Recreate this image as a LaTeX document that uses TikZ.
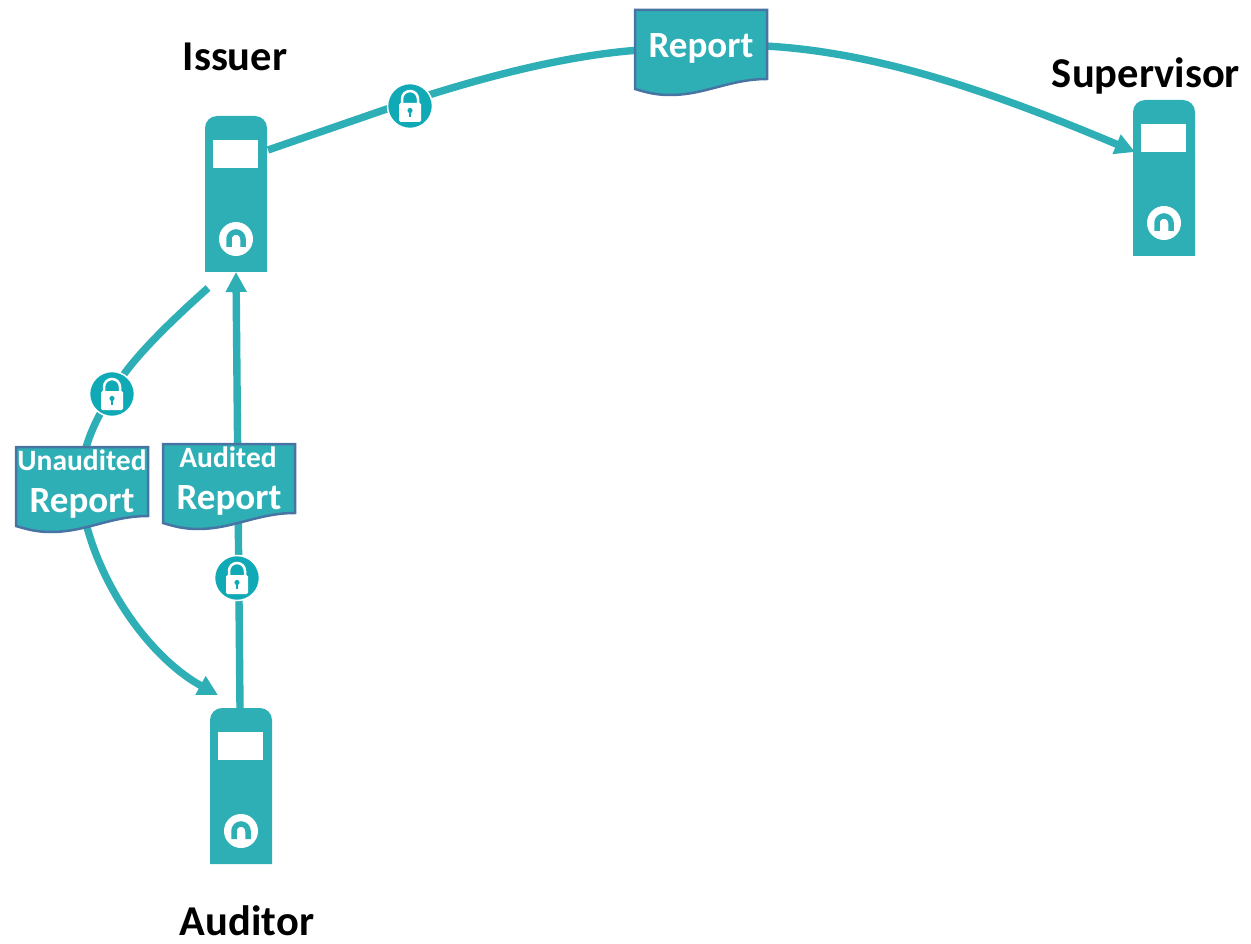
\documentclass[tikz,border=0pt]{standalone}
\usepackage{fontspec}
\setmainfont{Carlito}
\usetikzlibrary{arrows.meta,calc}
\definecolor{teal1}{RGB}{46,175,182}
\definecolor{teal2}{RGB}{16,170,182}
\definecolor{docedge}{RGB}{72,116,164}
\tikzset{
  x=1pt,y=-1pt,
  flow/.style={draw=teal1,line width=7.4pt},
  flowarrow/.style={flow,-{Triangle[length=20pt,width=20pt]}},
  actor/.style={font=\bfseries\fontsize{42.5}{46}\selectfont,text=black,inner sep=0pt},
  doctext/.style={font=\bfseries\fontsize{37}{40}\selectfont,text=white,inner sep=0pt},
  docsmall/.style={font=\bfseries\fontsize{29.5}{32}\selectfont,text=white,inner sep=0pt},
}
% server: name, left x, top y
\newcommand{\serverbox}[3]{%
  \begin{scope}[shift={(#2,#3)}]
    \fill[teal1] (0,156) -- (0,12) arc[start angle=180,end angle=270,radius=12] -- (50,0) arc[start angle=270,end angle=360,radius=12] -- (62,156) -- cycle;
    \fill[white] (8,24) rectangle (53,52);
    \fill[white] (31,123) circle[radius=17];
    \draw[teal1,line width=5.5pt] (24,131) -- (24,123) arc[start angle=180,end angle=360,radius=7] -- (38,131);
    \node[inner sep=0pt,minimum width=62pt,minimum height=156pt] (#1) at (31,78) {};
  \end{scope}}
% lock: name, cx, cy
\newcommand{\lockbadge}[3]{%
  \begin{scope}[shift={(#2,#3)}]
    \node[circle,fill=teal2,draw=white,line width=1.5pt,minimum size=45pt,inner sep=0pt] (#1) at (0,0) {};
    \draw[white,line width=2.5pt] (-8,-1) -- (-8,-7) arc[start angle=180,end angle=360,radius=8] -- (8,-1);
    \fill[white,rounded corners=1.5pt] (-11,-3) rectangle (11,16);
    \fill[teal2] (0,4.5) circle[radius=2.6];
    \fill[teal2] (-1.1,4.5) rectangle (1.1,11);
  \end{scope}}
% document: name, left x, top y
\newcommand{\docshape}[3]{%
  \begin{scope}[shift={(#2,#3)}]
    \fill[teal1,draw=docedge,line width=2.5pt] (0,0) -- (132,0) -- (132,69)
      .. controls (95,69) and (70,85) .. (35,85)
      .. controls (20,85) and (10,82) .. (0,79) -- cycle;
    \node[inner sep=0pt,minimum width=132pt,minimum height=85pt] (#1) at (66,42) {};
  \end{scope}}
\begin{document}
\begin{tikzpicture}
\useasboundingbox (0,0) rectangle (1251,944);
% anchors for free ends
\coordinate (c1) at (268,150);
\coordinate (c2) at (208,288);
\coordinate (c3) at (218,695);
\coordinate (c4) at (240,708);
\coordinate (c5) at (236,272);
\coordinate (c6) at (1135,152);
% servers
\serverbox{issuer}{205}{116}
\serverbox{supervisor}{1133}{100}
\serverbox{auditor}{210}{708}
% connectors
\draw[flow] (c1) -- (410,101);
\draw[flow] (410,101) .. controls (490,75) and (570,55) .. (640,50);
\draw[flowarrow] (765,46) .. controls (880,52) and (1000,95) .. (c6);
\draw[flow] (c2) .. controls (170,322) and (125,365) .. (112,394);
\draw[flow] (112,394) .. controls (95,420) and (80,450) .. (80,490);
\draw[flowarrow] (80,490) .. controls (88,570) and (145,655) .. (c3);
\draw[flowarrow] (c4) -- (c5);
% documents
\docshape{rep}{635}{10}
\docshape{unaud}{16}{447}
\docshape{aud}{163}{444}
\node[doctext] (t1) at (701,48) {Report};
\node[docsmall] (t2) at (82,460) {Unaudited};
\node[doctext] (t3) at (82,503) {Report};
\node[docsmall] (t4) at (228,457) {Audited};
\node[doctext] (t5) at (229,500) {Report};
% locks
\lockbadge{l1}{410}{106}
\lockbadge{l2}{112}{394}
\lockbadge{l3}{237}{578}
% labels
\node[actor] (a1) at (235,57) {Issuer};
\node[actor] (a2) at (1146,76) {Supervisor};
\node[actor] (a3) at (247,921) {Auditor};
\end{tikzpicture}
\end{document}
